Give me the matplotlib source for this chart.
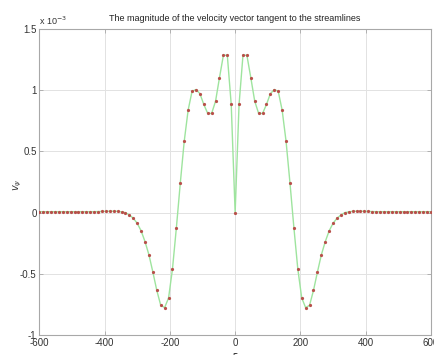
import numpy as np
import matplotlib
matplotlib.use("Agg")
import matplotlib.pyplot as plt

plt.rcParams['axes.unicode_minus'] = False
plt.rcParams['font.family'] = ['Liberation Sans', 'DejaVu Sans']

# x positions (every 12 units) and v_psi values in units of 1e-3
x_left = [-600, -588, -576, -564, -552, -540, -528, -516, -504, -492,
          -480, -468, -456, -444, -432, -420, -408, -396, -384, -372,
          -360, -348, -336, -324, -312, -300, -288, -276, -264, -252,
          -240, -228, -216, -204, -192, -180, -168, -156, -144, -132,
          -120, -108, -96, -84, -72, -60, -48, -36, -24, -12, 0]
v_left = [0.008, 0.008, 0.008, 0.008, 0.008, 0.008, 0.008, 0.008, 0.008, 0.008,
          0.008, 0.008, 0.008, 0.008, 0.008, 0.009, 0.010, 0.011, 0.012, 0.012,
          0.011, 0.006, 0.000, -0.019, -0.046, -0.087, -0.149, -0.238, -0.346, -0.487,
          -0.636, -0.757, -0.776, -0.697, -0.460, -0.122, 0.243, 0.584, 0.838, 0.992,
          1.006, 0.973, 0.884, 0.811, 0.811, 0.911, 1.103, 1.286, 1.286, 0.884, 0.0]
x_right = [12, 24, 36, 48, 60, 72, 84, 96, 108, 120,
           132, 144, 156, 168, 180, 192, 204, 216, 228, 240,
           252, 264, 276, 288, 300, 312, 324, 336, 348, 360,
           372, 384, 396, 408, 420, 432, 444, 456, 468, 480,
           492, 504, 516, 528, 540, 552, 564, 576, 588, 600]
v_right = [0.884, 1.286, 1.286, 1.103, 0.911, 0.811, 0.811, 0.884, 0.973, 1.006,
           0.992, 0.838, 0.584, 0.243, -0.122, -0.460, -0.697, -0.776, -0.757, -0.636,
           -0.487, -0.346, -0.238, -0.149, -0.087, -0.046, -0.019, 0.000, 0.006, 0.011,
           0.012, 0.012, 0.011, 0.010, 0.009, 0.008, 0.008, 0.008, 0.008, 0.008,
           0.008, 0.008, 0.008, 0.008, 0.008, 0.008, 0.008, 0.008, 0.008, 0.008]

x = np.array(x_left + x_right, dtype=float)
v = np.array(v_left + v_right, dtype=float)

xticks = [-600, -400, -200, 0, 200, 400, 600]
yticks = [-1, -0.5, 0, 0.5, 1, 1.5]
yticklabels = ['-1', '-0.5', '0', '0.5', '1', '1.5']

fig = plt.figure(figsize=(4.34, 3.55), dpi=100)
ax = fig.add_axes([0.0906, 0.0563, 0.9024, 0.8617])

ax.plot(x, v, color='#9ee49e', lw=1.0, zorder=2)
ax.plot(x, v, linestyle='none', marker='.', markersize=2.6,
        color='#b8504a', zorder=3)

ax.set_xlim(-600, 600)
ax.set_ylim(-1, 1.5)
ax.set_xticks(xticks)
ax.set_xticklabels([str(t) for t in xticks])
ax.set_yticks(yticks)
ax.set_yticklabels(yticklabels)

ax.grid(True, color='#e2e2e2', lw=0.7, linestyle='-')
ax.set_axisbelow(True)
for s in ax.spines.values():
    s.set_color('#a8a8a8')
    s.set_linewidth(0.8)
ax.tick_params(direction='in', length=3, width=0.6, color='#a8a8a8',
               labelsize=7, labelcolor='#333333', pad=2)
ax.tick_params(axis='x', top=True)
ax.tick_params(axis='y', right=True)

ax.set_title('The magnitude of the velocity vector tangent to the streamlines',
             fontsize=6.5, color='#222222', pad=6)
ax.text(0.0, 1.008, r'x 10$^{-3}$', transform=ax.transAxes,
        fontsize=6.5, color='#333333', ha='left', va='bottom')
ax.set_ylabel(r'$v_\psi$', fontsize=7, color='#333333')
ax.yaxis.set_label_coords(-0.04, 0.49)
ax.set_xlabel(r'$\xi$', fontsize=7, color='#333333', labelpad=2)

fig.savefig('out.png', dpi=100)
